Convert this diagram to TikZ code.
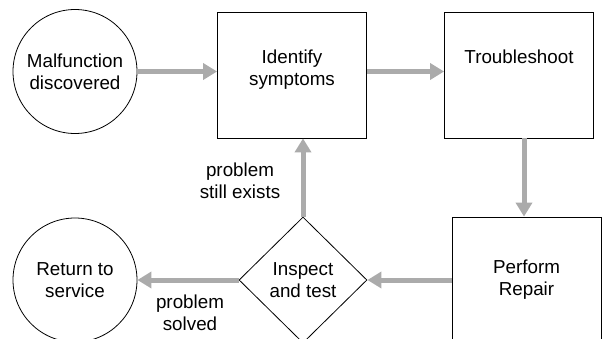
\documentclass[tikz,border=0pt]{standalone}
\usepackage{fontspec}
\setmainfont{Liberation Sans}
\usetikzlibrary{arrows.meta,shapes.geometric}
\begin{document}
\begin{tikzpicture}[>={Triangle[length=14pt,width=16pt]},x=1pt,y=1pt,
    font=\fontsize{18.8}{22}\selectfont,
    flow/.style={->,line width=5pt,draw=black!33},
    circ/.style={draw,circle,line width=0.8pt,minimum size=124pt,inner sep=0pt,align=center},
    stepbox/.style={draw,line width=0.8pt,minimum width=149pt,minimum height=126pt,inner sep=0pt},
    check/.style={draw,line width=0.8pt,diamond,shape aspect=1,minimum width=128pt,minimum height=126pt,inner sep=0pt,align=center},
    note/.style={align=center}]
            \useasboundingbox (0,0) rectangle (602,-338);
            \clip (0,0) rectangle (602,-338);
            \node[circ] (mal) at (75,-71.5) {Malfunction\\discovered};
            \node[stepbox,label={[name=identtxt,anchor=north,align=center,yshift=-35pt]north:{Identify\\symptoms}}] (ident) at (292,-75) {};
            \node[stepbox,label={[name=troubletxt,anchor=north,yshift=-35pt]north:{Troubleshoot}}] (trouble) at (519,-75) {};
            \node[stepbox,align=center] (repair) at (526.5,-280) {Perform\\Repair};
            \node[check] (insp) at (303,-280) {Inspect\\and test};
            \node[circ] (ret) at (75,-280) {Return to\\service};
            \node[note] (exists) at (240,-181) {problem\\still exists};
            \node[note] (solved) at (190,-313) {problem\\solved};
            %\draw[help lines] (0,0) grid[step=50pt] (602,-338);
            \draw[flow] (mal.east) -- (mal.east -| ident.west);
            \draw[flow] (ident.east |- mal) -- (trouble.west |- mal);
            \draw[flow] ([xshift=5pt]trouble.south) -- ([xshift=5pt]trouble.south |- repair.north);
            \draw[flow] (repair.west) -- (insp.east);
            \draw[flow] (insp.north) -- (insp.north |- ident.south);
            \draw[flow] (insp.west) -- (ret.east);
        \end{tikzpicture}
\end{document}
